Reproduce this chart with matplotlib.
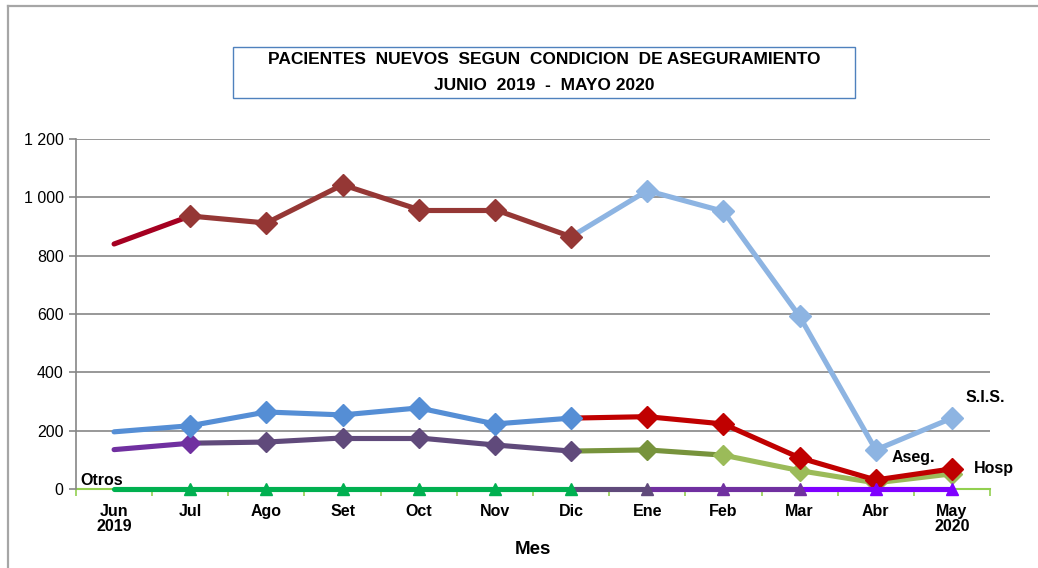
import matplotlib
matplotlib.use("Agg")
import matplotlib.pyplot as plt
from matplotlib.lines import Line2D
from matplotlib.patches import Rectangle

# Datos
meses = ["Jun\n2019", "Jul", "Ago", "Set", "Oct", "Nov", "Dic",
         "Ene", "Feb", "Mar", "Abr", "May\n2020"]
sis = [840, 936, 912, 1043, 958, 958, 865, 1023, 952, 592, 134, 243]
hosp = [196, 217, 264, 254, 278, 223, 243, 248, 223, 107, 31, 69]
aseg = [135, 157, 161, 175, 175, 151, 130, 134, 116, 63, 21, 52]
otros = [0, 0, 0, 0, 0, 0, 0, 0, 0, 0, 0, 0]

# colores de cada tramo (11) y de cada marcador (12, None = sin marcador)
sis_seg = ["#A50021"] + ["#953735"] * 5 + ["#8DB4E2"] * 5
sis_mk = [None] + ["#953735"] * 6 + ["#8DB4E2"] * 5
hosp_seg = ["#558ED5"] * 6 + ["#C00000"] * 5
hosp_mk = [None] + ["#558ED5"] * 6 + ["#C00000"] * 5
aseg_seg = ["#7030A0"] + ["#604A7B"] * 5 + ["#77933C"] * 2 + ["#9BBB59"] * 3
aseg_mk = [None, "#7030A0"] + ["#604A7B"] * 5 + ["#77933C", "#9BBB59", "#9BBB59", "#9BBB59", "#9BBB59"]
otros_seg = ["#00B050"] * 6 + ["#604A7B", "#7030A0", "#7030A0", "#7F00FF", "#7F00FF"]
otros_mk = [None] + ["#00B050"] * 6 + ["#604A7B", "#7030A0", "#7030A0", "#7F00FF", "#7F00FF"]

plt.rcParams['font.family'] = ['Liberation Sans', 'DejaVu Sans']

fig = plt.figure(figsize=(10.38, 5.68), dpi=100)
ax = fig.add_axes([76 / 1038, 79 / 568, 914 / 1038, 350 / 568])

x = list(range(len(meses)))


def dibujar(vals, seg_cols, mk_cols, marker, ms, z):
    for i in range(len(vals) - 1):
        ax.plot(x[i:i + 2], vals[i:i + 2], color=seg_cols[i], lw=3.7,
                solid_capstyle='round', zorder=z, clip_on=False)
    for i, c in enumerate(mk_cols):
        if c is not None:
            ax.plot(x[i], vals[i], marker=marker, ms=ms, color=c,
                    mec=c, zorder=z + 0.5, ls='none', clip_on=False)


dibujar(sis, sis_seg, sis_mk, 'D', 11, 3)
dibujar(aseg, aseg_seg, aseg_mk, 'D', 10, 4)
dibujar(hosp, hosp_seg, hosp_mk, 'D', 11, 5)
dibujar(otros, otros_seg, otros_mk, '^', 9, 6)

# etiquetas de series
lab = dict(fontsize=11.5, fontweight='bold', ha='center', va='center',
           annotation_clip=False)
ax.annotate("S.I.S.", xy=(11, sis[11]), xytext=(24, 15), textcoords='offset points', **lab)
ax.annotate("Hosp", xy=(11, hosp[11]), xytext=(30, 0), textcoords='offset points', **lab)
ax.annotate("Aseg.", xy=(10, aseg[10]), xytext=(27, 18), textcoords='offset points', **lab)
ax.annotate("Otros", xy=(0, otros[0]), xytext=(-9, 6), textcoords='offset points', **lab)

ax.set_xlim(-0.5, 11.5)
ax.set_ylim(0, 1200)
ax.set_yticks(range(0, 1201, 200))
ax.set_yticklabels(["0", "200", "400", "600", "800", "1 000", "1 200"], fontsize=11.5)
ax.grid(axis='y', color='#868686', lw=1.2)
ax.set_axisbelow(True)

ax.set_xticks(x)
ax.set_xticklabels(meses, fontsize=11.5, fontweight='bold', linespacing=1.0)
ax.set_xticks([i - 0.5 for i in range(13)], minor=True)
ax.tick_params(axis='x', which='major', length=0, pad=11)
ax.tick_params(axis='x', which='minor', length=5, color='#92D050', width=1.2)
ax.tick_params(axis='y', length=5, color='#868686', width=1.2, pad=4)

for s in ['top', 'right']:
    ax.spines[s].set_visible(False)
ax.spines['left'].set_color('#868686')
ax.spines['left'].set_linewidth(1.2)
ax.spines['bottom'].set_color('#92D050')
ax.spines['bottom'].set_linewidth(1.5)
ax.spines['bottom'].set_zorder(2)

ax.set_xlabel("Mes", fontsize=13.5, fontweight='bold', labelpad=5)

# titulo en recuadro
fig.add_artist(Rectangle((233 / 1038, 1 - 98 / 568), 622 / 1038, 51 / 568,
                         transform=fig.transFigure, fill=False,
                         edgecolor='#4F81BD', lw=1))
fig.text(544 / 1038, 1 - 60 / 568,
         "PACIENTES  NUEVOS  SEGUN  CONDICION  DE ASEGURAMIENTO",
         ha='center', va='center', fontsize=12.5, fontweight='bold')
fig.text(544 / 1038, 1 - 85 / 568, "JUNIO  2019  -  MAYO 2020",
         ha='center', va='center', fontsize=12.5, fontweight='bold')

# marco exterior
fig.add_artist(Line2D([8 / 1038, 8 / 1038], [0, 1 - 6 / 568],
                      transform=fig.transFigure, color='#A6A6A6', lw=1.6))
fig.add_artist(Line2D([8 / 1038, 1], [1 - 6 / 568, 1 - 6 / 568],
                      transform=fig.transFigure, color='#A6A6A6', lw=1.6))

fig.savefig("out.png", dpi=100)
